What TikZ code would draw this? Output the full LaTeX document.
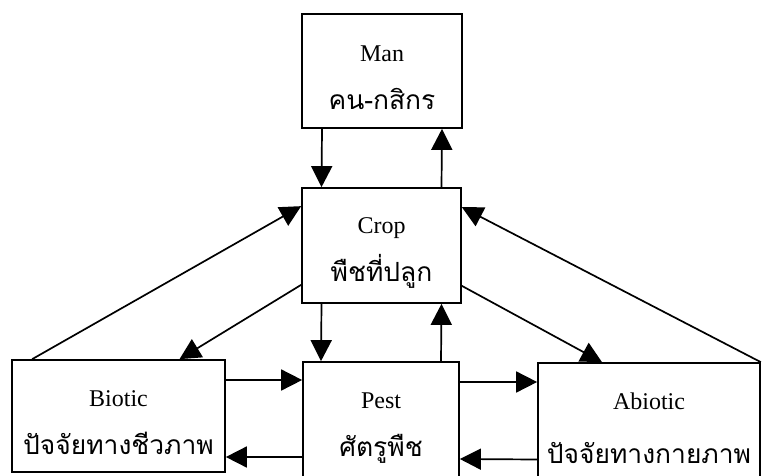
\documentclass[tikz,border=0pt]{standalone}
\usepackage{fontspec}
\setmainfont{Liberation Serif}
\newfontfamily\thaifont[Script=Thai,Scale=1.1]{Loma}
\usetikzlibrary{arrows.meta}
\newcommand{\topgap}{\rule{0pt}{30pt}}

\begin{document}
\begin{tikzpicture}[x=1pt,y=1pt,
  box/.style={draw,line width=1.7pt,align=center,inner sep=0pt,
    font=\fontsize{24}{48}\selectfont},
  arr/.style={line width=1.7pt,-{Triangle[length=21pt,width=21pt]}}]
\useasboundingbox (0,0) rectangle (762,475);
\clip (0,0) rectangle (762,475);
\node[box,minimum width=160pt,minimum height=114pt] (man) at (382,404) {\topgap Man\\{\thaifont คน-กสิกร}};
\node[box,minimum width=159pt,minimum height=115pt] (crop) at (381.5,229.5) {\topgap Crop\\{\thaifont พืชที่ปลูก}};
\node[box,minimum width=213pt,minimum height=112pt] (biotic) at (118.5,59) {\topgap Biotic\\{\thaifont ปัจจัยทางชีวภาพ}};
\node[box,minimum width=156pt,minimum height=118pt] (pest) at (381,54) {\topgap Pest\\{\thaifont ศัตรูพืช}};
\node[box,minimum width=222pt,minimum height=117pt] (abiotic) at (649,53.5) {\topgap Abiotic\\[6pt]{\thaifont ปัจจัยทางกายภาพ}};
\draw[arr] ([xshift=-60pt]man.south) -- ([xshift=-60pt]crop.north);
\draw[arr] ([xshift=60pt]crop.north) -- ([xshift=60pt]man.south);
\draw[arr] ([xshift=-60pt]crop.south) -- ([xshift=-60pt]pest.north);
\draw[arr] ([xshift=60pt]pest.north) -- ([xshift=60pt]crop.south);
\draw[arr] ([yshift=36pt]biotic.east) -- ([yshift=41pt]pest.west);
\draw[arr] ([yshift=-36pt]pest.west) -- ([yshift=-41pt]biotic.east);
\draw[arr] ([yshift=39pt]pest.east) -- ([yshift=39.5pt]abiotic.west);
\draw[arr] ([yshift=-38pt]abiotic.west) -- ([yshift=-38pt]pest.east);
\draw[arr] ([xshift=21pt]biotic.north west) -- ([yshift=-19pt]crop.north west);
\draw[arr] ([yshift=19pt]crop.south west) -- ([xshift=61pt]biotic.north);
\draw[arr] ([yshift=18pt]crop.south east) -- ([xshift=-47pt]abiotic.north);
\draw[arr] (abiotic.north east) -- ([yshift=-20pt]crop.north east);
\end{tikzpicture}
\end{document}
